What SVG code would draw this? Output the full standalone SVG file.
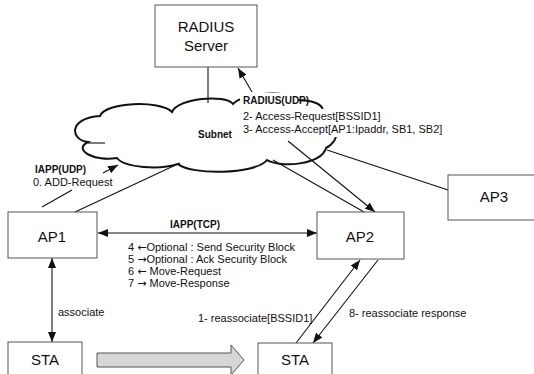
<svg xmlns="http://www.w3.org/2000/svg" width="534" height="374" viewBox="0 0 534 374">
<style>
.box{fill:#fff;stroke:#555;stroke-width:1}
.big{font-family:"Liberation Sans",Arial,sans-serif;font-size:15px;fill:#111;text-anchor:middle}
.t{font-family:"Liberation Sans",Arial,sans-serif;font-size:11px;fill:#111}
.b{font-family:"Liberation Sans",Arial,sans-serif;font-size:10px;font-weight:bold;fill:#111}
.ar{font-family:"DejaVu Sans",sans-serif;font-size:11px}
.ln{stroke:#111;stroke-width:1.1;fill:none}
.cl{stroke:#111;stroke-width:2;fill:#fff}
</style>
<defs>
<marker id="ah" viewBox="0 0 10 8" refX="10" refY="4" markerWidth="10" markerHeight="8" markerUnits="userSpaceOnUse" orient="auto-start-reverse">
<path d="M0,0 L10,4 L0,8 Z" fill="#111"/>
</marker>
</defs>
<rect width="534" height="374" fill="#fff"/>

<g id="cloud">
<path class="cl" d="M88,142 C70,140 68,118 100,116 C105,102 160,100 172,112 C178,98 225,94 233,104 C245,92 290,90 297,100 C312,100 322,104 323,110 C340,118 342,140 326,148 C322,165 280,168 267,160 C255,175 190,175 178,164 C160,170 125,168 117,158 C95,162 72,150 88,142 Z"/>
<path class="ln" stroke-width="1.6" d="M88,143 L105,143"/>
<text class="b" x="198" y="138">Subnet</text>
</g>

<g id="connectors">
<line class="ln" x1="208" y1="67" x2="208" y2="103"/>
<line class="ln" x1="252" y1="92" x2="238" y2="68" marker-end="url(#ah)"/>
<line class="ln" x1="180" y1="163" x2="75" y2="212"/>
<line class="ln" x1="103" y1="173" x2="118" y2="165" marker-end="url(#ah)"/>
<line class="ln" x1="42" y1="207" x2="72" y2="190"/>
<line class="ln" x1="327" y1="150" x2="448" y2="190"/>
<line class="ln" x1="273" y1="160" x2="364" y2="212"/>
<line class="ln" x1="288" y1="141" x2="375" y2="212" marker-end="url(#ah)"/>
<line class="ln" x1="98" y1="233" x2="317" y2="233" marker-start="url(#ah)" marker-end="url(#ah)"/>
<line class="ln" x1="52" y1="258" x2="52" y2="342" marker-start="url(#ah)" marker-end="url(#ah)"/>
<line class="ln" x1="296" y1="343" x2="360" y2="260" marker-end="url(#ah)"/>
<line class="ln" x1="378" y1="260" x2="313" y2="343" marker-end="url(#ah)"/>
<path d="M97,353 L231,353 L231,345 L244,360 L231,375 L231,367 L97,367 Z" fill="#d6d6d6" stroke="#555" stroke-width="1"/>
</g>

<g id="labels">
<rect x="240" y="93" width="58" height="13" fill="#fff"/>
<text class="b" x="243" y="104">RADIUS(UDP)</text>
<rect x="240" y="109" width="206" height="28" fill="#fff"/>
<text class="t" x="243" y="120">2- Access-Request[BSSID1]</text>
<text class="t" x="243" y="133">3- Access-Accept[AP1:Ipaddr, SB1, SB2]</text>
<text class="b" x="35" y="173">IAPP(UDP)</text>
<text class="t" x="33" y="186">0. ADD-Request</text>
<text class="b" x="170" y="228">IAPP(TCP)</text>
<text class="t" x="128" y="251">4 <tspan class="ar">←</tspan>Optional : Send Security Block</text>
<text class="t" x="128" y="263">5 <tspan class="ar">→</tspan>Optional : Ack Security Block</text>
<text class="t" x="128" y="275">6 <tspan class="ar">←</tspan> Move-Request</text>
<text class="t" x="128" y="287">7 <tspan class="ar">→</tspan> Move-Response</text>
<text class="t" x="58" y="316">associate</text>
<text class="t" x="198" y="322">1- reassociate[BSSID1]</text>
<text class="t" x="349" y="317">8- reassociate response</text>
</g>

<g id="radius">
<rect class="box" x="155" y="5" width="102" height="62"/>
<text class="big" x="206" y="32">RADIUS</text>
<text class="big" x="206" y="51">Server</text>
</g>
<g id="ap1">
<rect class="box" x="8" y="212" width="89" height="46"/>
<text class="big" x="52" y="242">AP1</text>
</g>
<g id="ap2">
<rect class="box" x="317" y="212" width="87" height="47"/>
<text class="big" x="360" y="242">AP2</text>
</g>
<g id="ap3">
<rect class="box" x="448" y="175" width="92" height="45"/>
<text class="big" x="494" y="202">AP3</text>
</g>
<g id="sta1">
<rect class="box" x="8" y="342" width="74" height="40"/>
<text class="big" x="45" y="365">STA</text>
</g>
<g id="sta2">
<rect class="box" x="258" y="343" width="74" height="40"/>
<text class="big" x="295" y="365">STA</text>
</g>
</svg>
